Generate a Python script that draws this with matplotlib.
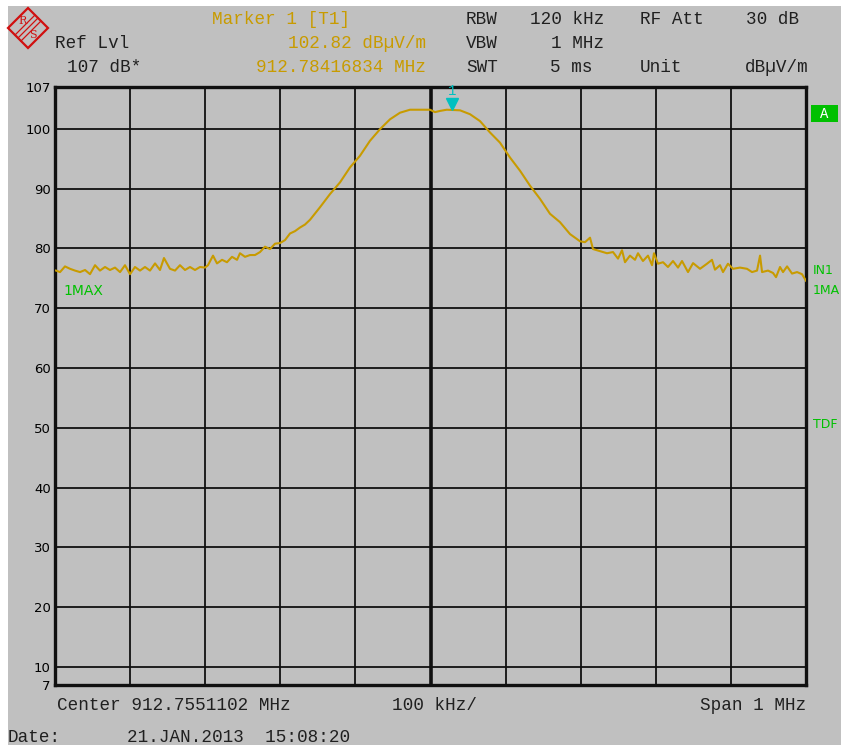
import numpy as np
import matplotlib
matplotlib.use('Agg')
import matplotlib.pyplot as plt
from matplotlib.patches import Rectangle, Polygon
from matplotlib.lines import Line2D

W, H = 841, 749
gray = '#c0c0c0'
trace_color = '#c89b00'
green = '#00c000'
cyan = '#00c0c0'
mono = 'Liberation Mono'

# analyzer settings
center_mhz = 912.7551102
span_mhz = 1.0
ref_lvl = 107
bottom_lvl = 7
marker_mhz = 912.78416834
marker_lvl = 102.82

# trace: offset from start of span (kHz) and level (dBuV/m)
trace_khz = [1.3, 6.7, 13.3, 20.0, 26.6, 33.3, 40.0, 46.6, 53.3, 59.9, 66.6, 73.2,
             79.9, 86.6, 93.2, 99.9, 106.5, 113.2, 119.8, 126.5, 133.2, 139.8,
             145.1, 153.1, 159.8, 166.4, 173.1, 179.8, 186.4, 193.1, 199.7, 203.7,
             210.4, 215.7, 222.4, 229.0, 235.7, 242.4, 246.3, 253.0, 259.7, 266.3,
             273.0, 279.6, 286.3, 293.0, 299.6, 306.3, 312.9, 319.6, 326.2, 332.9,
             339.6, 352.9, 366.2, 379.5, 392.8, 406.1, 419.4, 432.8, 446.1, 459.4,
             472.7, 486.0, 499.3, 506.0, 512.7, 521.6, 539.3, 552.6, 565.9, 579.2,
             592.5, 605.9, 619.2, 632.5, 645.8, 659.1, 672.4, 685.8, 699.1, 705.7,
             712.4, 716.4, 725.7, 735.0, 743.0, 749.7, 755.0, 759.0, 765.6, 772.3,
             776.3, 782.9, 789.6, 795.0, 797.6, 802.9, 809.6, 816.2, 822.9, 829.6,
             834.9, 842.9, 849.6, 858.9, 868.2, 874.8, 878.8, 885.5, 889.5, 896.1,
             902.8, 912.1, 921.4, 928.1, 934.8, 938.8, 941.5, 949.4, 956.1, 960.1,
             965.4, 969.4, 974.8, 981.4, 988.1, 994.7, 1000.0]
trace_db = [76.3, 76.05, 77.0, 76.6, 76.3, 76.05, 76.4, 75.7, 77.2, 76.3, 76.9, 76.4,
            76.8, 76.05, 77.2, 75.7, 76.9, 76.3, 76.9, 76.3, 77.5, 76.4,
            78.4, 76.6, 76.3, 77.2, 76.4, 76.9, 76.4, 76.9, 76.8, 77.2,
            78.8, 77.5, 78.1, 77.7, 78.6, 78.1, 79.2, 78.6, 78.9, 78.9,
            79.4, 80.3, 79.9, 80.8, 80.9, 81.4, 82.5, 82.9, 83.5, 84.0,
            84.8, 86.9, 89.1, 91.05, 93.55, 95.5, 98.0, 99.95, 101.6, 102.7,
            103.2, 103.2, 103.2, 102.8, 103.0, 103.2, 103.1, 102.45, 101.3, 99.4,
            97.7, 95.2, 93.0, 90.5, 88.3, 85.8, 84.4, 82.4, 81.2, 81.05,
            81.8, 79.9, 79.55, 79.2, 79.4, 78.3, 79.7, 77.7, 78.8, 78.1,
            79.2, 77.9, 78.8, 77.2, 79.2, 77.45, 77.7, 76.9, 77.9, 76.8,
            77.9, 76.05, 77.55, 76.6, 77.45, 78.1, 76.45, 77.2, 76.05, 77.45,
            76.6, 76.8, 76.6, 76.05, 76.3, 78.8, 76.05, 76.3, 75.9, 75.2,
            76.9, 76.05, 77.0, 75.8, 76.05, 75.7, 74.6]

y_ticks = [7, 10, 20, 30, 40, 50, 60, 70, 80, 90, 100, 107]
x_div_khz = [0, 100, 200, 300, 400, 500, 600, 700, 800, 900, 1000]


def fx(x):
    return x / W


def fy(y):
    return 1 - y / H


fig = plt.figure(figsize=(W / 100, H / 100), dpi=100, facecolor='white')
fig.patches.append(Rectangle((fx(8), fy(745)), 1 - fx(8), fy(6) - fy(745),
                             transform=fig.transFigure, facecolor=gray,
                             edgecolor='none', zorder=-5))

ax = fig.add_axes([fx(55), fy(685), fx(806) - fx(55), fy(87) - fy(685)])
ax.set_zorder(2)
ax.set_facecolor(gray)
ax.plot(trace_khz, trace_db, color=trace_color, lw=1.5, zorder=3)
ax.set_xlim(0, span_mhz * 1000)
ax.set_ylim(bottom_lvl, ref_lvl)
ax.set_xticks(x_div_khz)
ax.set_yticks(y_ticks)
ax.set_xticklabels([])
ax.set_yticklabels([str(v) for v in y_ticks], fontsize=9.5, family='DejaVu Sans')
ax.tick_params(length=0, pad=3)
ax.grid(True, color='#101010', lw=1.3)
ax.axvline(span_mhz * 1000 / 2, color='#101010', lw=2.6, zorder=2)
for s in ax.spines.values():
    s.set_linewidth(2.4)
    s.set_color('#101010')

# marker 1
mk = (marker_mhz - (center_mhz - span_mhz / 2)) * 1000
ax.plot([mk], [marker_lvl + 1.3], marker='v', color=cyan, ms=9, zorder=4,
        clip_on=False)
ax.text(mk, marker_lvl + 2.4, '1', color=cyan, fontsize=10, family=mono,
        ha='center', va='bottom', zorder=4, clip_on=False)

# R&S logo
cx, cy, r = 28, 28, 20
fig.patches.append(Polygon([(fx(cx), fy(cy - r)), (fx(cx + r), fy(cy)),
                            (fx(cx), fy(cy + r)), (fx(cx - r), fy(cy))],
                           closed=True, transform=fig.transFigure, fill=False,
                           edgecolor='#d01010', lw=1.6))
for d in (-3, 0, 3):
    fig.lines.append(Line2D([fx(cx - 10 + d), fx(cx + 10 + d)],
                            [fy(cy + 10 + d), fy(cy - 10 + d)],
                            transform=fig.transFigure, color='#d01010', lw=0.9))
fig.text(fx(23), fy(21), 'R', color='#d01010', fontsize=8, family='DejaVu Serif',
         ha='center', va='center')
fig.text(fx(33), fy(35), 'S', color='#d01010', fontsize=8, family='DejaVu Serif',
         ha='center', va='center')

fs = 12.7
def t(x, y, s, color='#202020', ha='left', size=fs, family=mono):
    fig.text(fx(x), fy(y), s, color=color, ha=ha, va='center', fontsize=size,
             family=family)

# header
t(212, 19, 'Marker 1 [T1]', trace_color)
t(55, 43, 'Ref Lvl')
t(426, 43, '102.82 dBµV/m', trace_color, ha='right')
t(67, 67, '107 dB*')
t(426, 67, '912.78416834 MHz', trace_color, ha='right')
t(466, 19, 'RBW')
t(604, 19, '120 kHz', ha='right')
t(640, 19, 'RF Att')
t(746, 19, '30 dB')
t(466, 43, 'VBW')
t(604, 43, '1 MHz', ha='right')
t(466, 67, 'SWT')
t(592, 67, '5 ms', ha='right')
t(640, 67, 'Unit')
t(745, 67, 'dBµV/m')

# side annotations
fig.patches.append(Rectangle((fx(811), fy(122)), fx(27), fy(105) - fy(122),
                             transform=fig.transFigure, facecolor=green,
                             edgecolor='none'))
t(824, 114, 'A', 'white', ha='center', size=10)
t(63, 291, '1MAX', green, size=10, family='DejaVu Sans')
t(813, 271, 'IN1', green, size=9, family='DejaVu Sans')
t(813, 291, '1MA', green, size=9, family='DejaVu Sans')
t(813, 424, 'TDF', green, size=9, family='DejaVu Sans')

# footer
t(57, 706, 'Center %s MHz' % center_mhz)
t(392, 706, '100 kHz/')
t(806, 706, 'Span %g MHz' % span_mhz, ha='right')
t(8, 738, 'Date:')
t(127, 738, '21.JAN.2013  15:08:20')

fig.savefig('out.png', dpi=100, facecolor='white')
